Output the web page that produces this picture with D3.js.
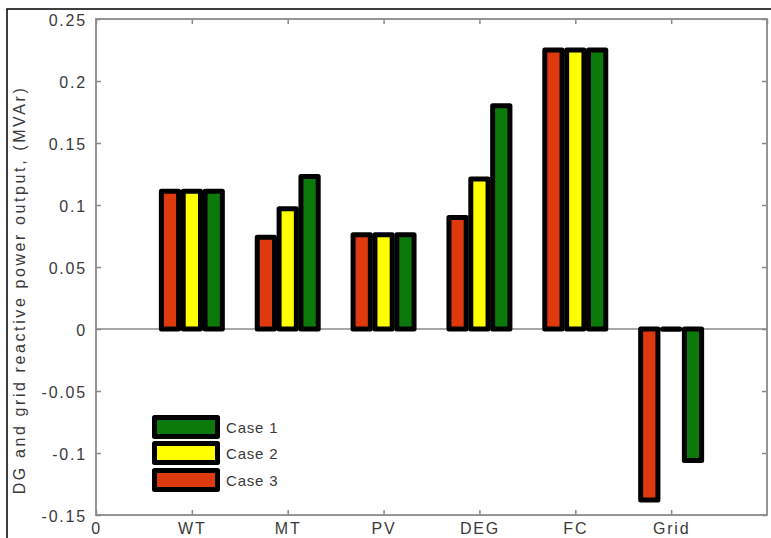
<!DOCTYPE html>
<html>
<head>
<meta charset="utf-8">
<script src="https://cdn.jsdelivr.net/npm/d3@7"></script>
<style>
html,body{margin:0;padding:0;background:#fff;}
svg{display:block;}
text{font-family:"Liberation Sans",Arial,Helvetica,sans-serif;}
</style>
</head>
<body>
<svg id="chart" width="771" height="538"></svg>
<script>
const categories = ["WT", "MT", "PV", "DEG", "FC", "Grid"];
const case1 = [0.111, 0.123, 0.076, 0.180, 0.225, -0.106];
const case2 = [0.111, 0.097, 0.076, 0.121, 0.225, 0];
const case3 = [0.111, 0.074, 0.076, 0.090, 0.225, -0.138];
const seriesNames = ["Case 1", "Case 2", "Case 3"];
const seriesColors = ["#0b7a0b", "#ffff00", "#de3a0e"];
const yTicks = [-0.15, -0.1, -0.05, 0, 0.05, 0.1, 0.15, 0.2, 0.25];
const yTickLabels = ["-0.15", "-0.1", "-0.05", "0", "0.05", "0.1", "0.15", "0.2", "0.25"];
const xTickLabels = ["0", "WT", "MT", "PV", "DEG", "FC", "Grid"];

const svg = d3.select("#chart");
const L = 96, R = 767, T = 19, B = 515;
const x = d3.scaleLinear().domain([0, 7]).range([L, R]);
const y = d3.scaleLinear().domain([-0.15, 0.25]).range([B, T]);

// outer frame
svg.append("rect").attr("x", 7).attr("y", 9).attr("width", 900).attr("height", 700)
  .attr("fill", "none").attr("stroke", "#000").attr("stroke-width", 1.5);

const axisColor = "#8a8a8a";
const textColor = "#3a3a3a";

// zero baseline
svg.append("line").attr("x1", L).attr("x2", R).attr("y1", y(0)).attr("y2", y(0))
  .attr("stroke", axisColor).attr("stroke-width", 1.5);

// bars: order red(case3), yellow(case2), green(case1)
const groups = [
  {vals: case3, color: seriesColors[2], off: -1},
  {vals: case2, color: seriesColors[1], off: 0},
  {vals: case1, color: seriesColors[0], off: 1}
];
const slot = 0.228, bw = 0.18;
groups.forEach(g => {
  svg.append("g").selectAll("rect").data(categories).join("rect")
    .attr("x", (d, i) => x(i + 1 + g.off * slot - bw / 2))
    .attr("width", x(bw) - x(0))
    .attr("y", (d, i) => Math.min(y(g.vals[i]), y(0)))
    .attr("height", (d, i) => Math.max(0.3, Math.abs(y(g.vals[i]) - y(0))))
    .attr("fill", g.color)
    .attr("stroke", "#000")
    .attr("stroke-width", 5)
    .attr("stroke-linejoin", "round");
});

// axes box
svg.append("rect").attr("x", L).attr("y", T).attr("width", R - L).attr("height", B - T)
  .attr("fill", "none").attr("stroke", axisColor).attr("stroke-width", 1.8);

// y ticks left & right
const yAxisL = d3.axisLeft(y).tickValues(yTicks).tickSize(-5).tickPadding(9)
  .tickFormat((d, i) => yTickLabels[i]);
const gyl = svg.append("g").attr("transform", `translate(${L},0)`).call(yAxisL);
gyl.select(".domain").remove();
gyl.selectAll("line").attr("stroke", axisColor).attr("stroke-width", 1.5);
gyl.selectAll("text").attr("fill", textColor).style("font-size", "16px")
  .style("letter-spacing", "1.8px").attr("dy", "0.4em");

const yAxisR = d3.axisRight(y).tickValues(yTicks).tickSize(-5).tickFormat("");
const gyr = svg.append("g").attr("transform", `translate(${R},0)`).call(yAxisR);
gyr.select(".domain").remove();
gyr.selectAll("line").attr("stroke", axisColor).attr("stroke-width", 1.5);

// x ticks bottom & top
const xAxisB = d3.axisBottom(x).tickValues(d3.range(0, 7)).tickSize(-5).tickPadding(0)
  .tickFormat((d, i) => xTickLabels[i]);
const gxb = svg.append("g").attr("transform", `translate(0,${B})`).call(xAxisB);
gxb.select(".domain").remove();
gxb.selectAll("line").attr("stroke", axisColor).attr("stroke-width", 1.5);
gxb.selectAll("text").attr("fill", textColor).style("font-size", "16px")
  .style("letter-spacing", "1.8px").attr("y", 19).attr("dy", null);

const xAxisT = d3.axisTop(x).tickValues(d3.range(0, 8)).tickSize(-5).tickFormat("");
const gxt = svg.append("g").attr("transform", `translate(0,${T})`).call(xAxisT);
gxt.select(".domain").remove();
gxt.selectAll("line").attr("stroke", axisColor).attr("stroke-width", 1.5);

// y label
svg.append("text")
  .attr("transform", `translate(25,290) rotate(-90)`)
  .attr("text-anchor", "middle")
  .attr("fill", textColor)
  .style("font-size", "16px")
  .style("letter-spacing", "2.6px")
  .text("DG and grid reactive power output, (MVAr)");

// legend
const leg = svg.append("g");
const legY = [427, 453, 480];
seriesNames.forEach((name, i) => {
  leg.append("rect").attr("x", 154.5).attr("y", legY[i] - 9.5).attr("width", 63).attr("height", 19)
    .attr("fill", seriesColors[i]).attr("stroke", "#000").attr("stroke-width", 5)
    .attr("stroke-linejoin", "round");
  leg.append("text").attr("x", 226).attr("y", legY[i] + 6)
    .attr("fill", textColor).style("font-size", "15px").style("letter-spacing", "0.8px")
    .text(name);
});
</script>
</body>
</html>
